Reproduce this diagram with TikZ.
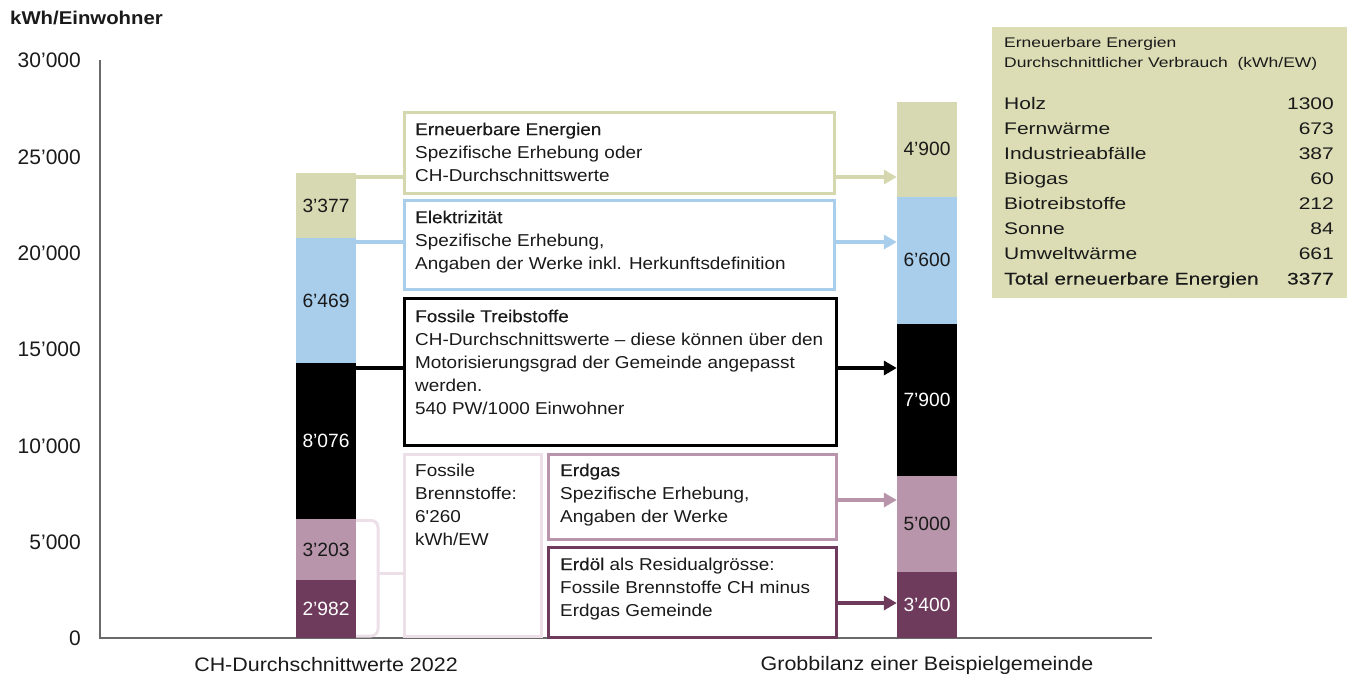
\documentclass[tikz,border=0pt]{standalone}
\usepackage{fontspec}
\setmainfont{Liberation Sans}
\newfontfamily\wf{Liberation Sans}[FakeStretch=1.1]
\newfontfamily\mf{Liberation Sans}[FakeStretch=1.1,FakeBold=0.35]
\newfontfamily\lf{Liberation Sans}[FakeStretch=1.25]
\newfontfamily\lmf{Liberation Sans}[FakeStretch=1.25,FakeBold=0.3]
\usetikzlibrary{arrows.meta,calc}
\definecolor{cgreen}{HTML}{D7D9B2}
\definecolor{cgreenb}{HTML}{D5D8AF}
\definecolor{clegend}{HTML}{DCDDB5}
\definecolor{cblue}{HTML}{A8CEEC}
\definecolor{cmauve}{HTML}{B895AA}
\definecolor{cdark}{HTML}{6E3B5C}
\definecolor{cpink}{HTML}{ECDFE7}
\definecolor{caxis}{HTML}{6A6A6A}
\definecolor{ctext}{HTML}{1A1A1A}
\tikzset{
  seg/.style={rectangle, inner sep=0pt, minimum width=60pt, anchor=south, draw=none,
    font=\fontsize{19.2}{20}\selectfont},
  frame/.style={rectangle, inner sep=0pt, anchor=north west, line width=2.6pt, fill=white},
  btxt/.style={inner sep=0pt, anchor=north west, align=left,
    font=\wf\fontsize{17.2}{23.2}\selectfont, text=ctext},
  tick/.style={inner sep=0pt, anchor=east, font=\fontsize{21}{21}\selectfont, text=ctext},
  conn/.style={line width=3.5pt},
  arr/.style={line width=3.5pt, -{Triangle[length=13pt,width=14pt]}},
  ltxt/.style={inner sep=0pt, font=\lf\fontsize{16.8}{25}\selectfont, text=ctext},
}
\begin{document}
\begin{tikzpicture}[x=1pt,y=-1pt]
\useasboundingbox (0,0) rectangle (1352,680);

% title and axes
\node[inner sep=0pt, anchor=west, font=\wf\bfseries\fontsize{18.5}{20}\selectfont, text=ctext] (title) at (10,18) {kWh/Einwohner};
\coordinate (origin) at (100,638);
\coordinate (ytop) at (100,60);
\coordinate (xend) at (1152,638);
\draw[caxis, line width=1.6pt] (ytop) -- (origin) -- (xend);
\node[tick] (t0) at (81,638) {0};
\node[tick] (t5) at (81,542) {5’000};
\node[tick] (t10) at (81,446) {10’000};
\node[tick] (t15) at (81,349) {15’000};
\node[tick] (t20) at (81,253) {20’000};
\node[tick] (t25) at (81,157) {25’000};
\node[tick] (t30) at (81,60) {30’000};

% left bar
\node[seg, fill=cdark, text=white, minimum height=57.45pt] (L1) at (326,638) {2’982};
\node[seg, fill=cmauve, text=ctext, minimum height=61.71pt] (L2) at (326,580.55) {3’203};
\node[seg, fill=black, text=white, minimum height=155.6pt] (L3) at (326,518.84) {8’076};
\node[seg, fill=cblue, text=ctext, minimum height=124.64pt] (L4) at (326,363.24) {6’469};
\node[seg, fill=cgreen, text=ctext, minimum height=65.06pt] (L5) at (326,238.6) {3’377};

% right bar
\node[seg, fill=cdark, text=white, minimum height=65.51pt] (R1) at (927,638) {3’400};
\node[seg, fill=cmauve, text=ctext, minimum height=96.33pt] (R2) at (927,572.49) {5’000};
\node[seg, fill=black, text=white, minimum height=152.21pt] (R3) at (927,476.16) {7’900};
\node[seg, fill=cblue, text=ctext, minimum height=127.16pt] (R4) at (927,323.95) {6’600};
\node[seg, fill=cgreen, text=ctext, minimum height=94.41pt] (R5) at (927,196.79) {4’900};

% boxes
\node[frame, draw=cgreenb, minimum width=430pt, minimum height=81pt] (ee) at (403,111) {};
\node[frame, draw=cblue, minimum width=430pt, minimum height=89pt] (el) at (403,199) {};
\node[frame, draw=black, line width=3.2pt, minimum width=432pt, minimum height=147pt] (ft) at (403,297) {};
\node[frame, draw=cpink, minimum width=137pt, minimum height=182pt] (fb) at (403,453) {};
\node[frame, draw=cmauve, minimum width=288pt, minimum height=85pt] (eg) at (547,453) {};
\node[frame, draw=cdark, minimum width=288pt, minimum height=90pt] (eo) at (547,546) {};

\node[btxt] (eet) at (415,122.5) {{\mf Erneuerbare Energien}\\Spezifische Erhebung oder\\CH-Durchschnittswerte};
\node[btxt] (elt) at (415,210.5) {{\mf Elektrizität}\\Spezifische Erhebung,\\Angaben der Werke inkl. Herkunftsdefinition};
\node[btxt] (ftt) at (415,309.5) {{\mf Fossile Treibstoffe}\\CH-Durchschnittswerte – diese können über den\\Motorisierungsgrad der Gemeinde angepasst\\werden.\\540 PW/1000 Einwohner};
\node[btxt] (fbt) at (415,463.5) {Fossile\\Brennstoffe:\\6'260\\kWh/EW};
\node[btxt] (egt) at (560,463.5) {{\mf Erdgas}\\Spezifische Erhebung,\\Angaben der Werke};
\node[btxt] (eot) at (560,557.5) {{\mf Erdöl} als Residualgrösse:\\Fossile Brennstoffe CH minus\\Erdgas Gemeinde};

% connector heights
\coordinate (yg) at (0,177);
\coordinate (yb) at (0,242);
\coordinate (yk) at (0,368);
\coordinate (ym) at (0,500);
\coordinate (yd) at (0,603);
\coordinate (bt) at (378,573);

% left connectors
\draw[conn, cgreenb] (L5.east |- yg) -- (ee.west |- yg);
\draw[conn, cblue] (L4.east |- yb) -- (el.west |- yb);
\draw[conn, black] (L3.east |- yk) -- (ft.west |- yk);
\draw[cpink, line width=3pt, rounded corners=7pt]
  ([yshift=-2pt]L2.north east) -| (bt) |- ([yshift=2pt]L1.south east);
\draw[cpink, line width=3pt] (bt) -- (fb.west |- bt);

% right arrows
\draw[arr, cgreenb] (ee.east |- yg) -- (R5.west |- yg);
\draw[arr, cblue] (el.east |- yb) -- (R4.west |- yb);
\draw[arr, black] (ft.east |- yk) -- (R3.west |- yk);
\draw[arr, cmauve] (eg.east |- ym) -- (R2.west |- ym);
\draw[arr, cdark] (eo.east |- yd) -- (R1.west |- yd);

% bottom labels
\node[inner sep=0pt, font=\wf\fontsize{19.5}{20}\selectfont, text=ctext] (lab1) at (326,665) {CH-Durchschnittwerte 2022};
\node[inner sep=0pt, font=\wf\fontsize{19.5}{20}\selectfont, text=ctext] (lab2) at (927,665) {Grobbilanz einer Beispielgemeinde};

% legend
\node[rectangle, fill=clegend, inner sep=0pt, anchor=north west, minimum width=355pt, minimum height=271pt] (leg) at (992,27) {};
\node[inner sep=0pt, anchor=base west, font=\lf\fontsize{14}{20}\selectfont, text=ctext] (lh1) at (1004,47) {Erneuerbare Energien};
\node[inner sep=0pt, anchor=base west, font=\lf\fontsize{14}{20}\selectfont, text=ctext] (lh2) at (1004,67) {Durchschnittlicher Verbrauch\ \ (kWh/EW)};
\foreach \n/\v [count=\i from 0] in {Holz/1300, Fernwärme/673, Industrieabfälle/387, Biogas/60, Biotreibstoffe/212, Sonne/84, Umweltwärme/661}{
  \node[ltxt, anchor=base west] (ln\i) at (1004,{109+25*\i}) {\n};
  \node[ltxt, anchor=base east] (lv\i) at (1334,{109+25*\i}) {\v};
}
\node[ltxt, anchor=base west, font=\lmf\fontsize{16.8}{25}\selectfont] (lnt) at (1004,284.5) {Total erneuerbare Energien};
\node[ltxt, anchor=base east, font=\lmf\fontsize{16.8}{25}\selectfont] (lvt) at (1334,284.5) {3377};
\end{tikzpicture}
\end{document}
